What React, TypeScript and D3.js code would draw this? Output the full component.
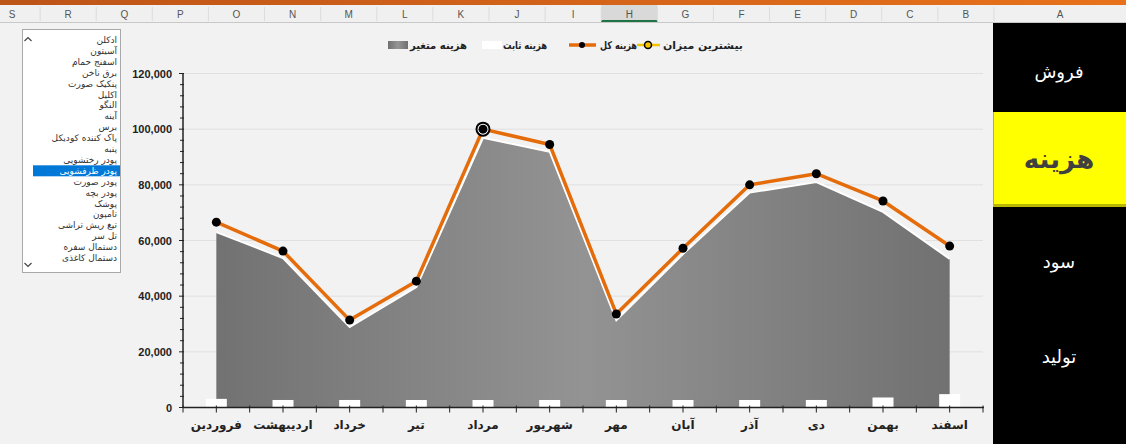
import React from 'react';
import * as d3 from 'd3';

const months = ['فروردین', 'اردیبهشت', 'خرداد', 'تیر', 'مرداد', 'شهریور', 'مهر', 'آبان', 'آذر', 'دی', 'بهمن', 'اسفند'];
const totalCost = [66600, 56200, 31400, 45400, 100000, 94500, 33600, 57200, 80000, 84000, 74200, 58000];
const variableCost = [63000, 53700, 28900, 43300, 96900, 91900, 31400, 55100, 77200, 81000, 70300, 53400];
const fixedCost = [3100, 2700, 2700, 2700, 2700, 2700, 2700, 2700, 2700, 2700, 3600, 4800];
const maxValue: (number | null)[] = [null, null, null, null, 100000, null, null, null, null, null, null, null];
const yTicks = [0, 20000, 40000, 60000, 80000, 100000, 120000];
const legendLabels = ['بیشترین میزان', 'هزینه کل', 'هزینه ثابت', 'هزینه متغیر'];
const products = ['ادکلن', 'آسیتون', 'اسفنج حمام', 'برق ناخن', 'پنکیک صورت', 'اکلیل', 'النگو', 'آینه', 'برس', 'پاک کننده کودیکل', 'پنبه', 'پودر رختشویی', 'پودر ظرفشویی', 'پودر صورت', 'پودر بچه', 'پوشک', 'تامپون', 'تیغ ریش تراشی', 'تل سر', 'دستمال سفره', 'دستمال کاغذی'];
const selectedProduct = 'پودر ظرفشویی';
const columnLetters = ['S', 'R', 'Q', 'P', 'O', 'N', 'M', 'L', 'K', 'J', 'I', 'H', 'G', 'F', 'E', 'D', 'C', 'B'];
const activeColumn = 'H';
const menuItems = ['فروش', 'هزینه', 'سود', 'تولید'];
const activeMenu = 'هزینه';

const W = 1126;
const H = 444;
const persian = "Tahoma, 'DejaVu Sans', sans-serif";
const latin = "Tahoma, 'Liberation Sans', Arial, sans-serif";

export default function App() {
  const x = d3.scaleBand<string>().domain(months).range([183, 983]);
  const cx = (m: string) => (x(m) as number) + x.bandwidth() / 2;
  const y = d3.scaleLinear().domain([0, 120000]).range([407.5, 73.5]);
  const minorTicks = d3.range(0, 120001, 4000);

  const area = d3
    .area<number>()
    .x((_, i) => cx(months[i]))
    .y0(y(0))
    .y1((d) => y(d));
  const topLine = d3
    .line<number>()
    .x((_, i) => cx(months[i]))
    .y((d) => y(d));

  const colX = d3.scaleBand<string>().domain(columnLetters).range([-16, 994]);
  const listY = d3.scalePoint<string>().domain(products).range([40, 258]);
  const menuY = d3.scalePoint<string>().domain(menuItems).range([72, 357]);

  // legend layout (right to left): right edge and width of each label
  const legendRight = [743, 637, 547, 467];
  const legendWidth = [80, 37, 44, 57];

  return (
    <svg width={W} height={H} style={{ position: 'absolute', left: 0, top: 0, background: '#f2f2f2' }}>
      <defs>
        <linearGradient id="topbar" x1="0" x2="1" y1="0" y2="0">
          <stop offset="0" stopColor="#bd5418" />
          <stop offset="1" stopColor="#e8721b" />
        </linearGradient>
        <linearGradient id="areaGrad" gradientUnits="userSpaceOnUse" x1="183" y1="0" x2="983" y2="0">
          <stop offset="0" stopColor="#6f6f6f" />
          <stop offset="0.5" stopColor="#939393" />
          <stop offset="1" stopColor="#6e6e6e" />
        </linearGradient>
        <linearGradient id="swatchGrad" x1="0" x2="1" y1="0" y2="0">
          <stop offset="0" stopColor="#707070" />
          <stop offset="0.5" stopColor="#959595" />
          <stop offset="1" stopColor="#707070" />
        </linearGradient>
      </defs>
      <rect x={0} y={0} width={W} height={H} fill="#f2f2f2" />

      {/* top bar and column headers */}
      <rect x={0} y={0} width={W} height={5} fill="url(#topbar)" />
      <rect x={0} y={5} width={W} height={17} fill="#f0f0f0" />
      <rect x={colX(activeColumn) as number} y={5} width={colX.bandwidth()} height={17} fill="#d9d9d9" />
      <rect x={colX(activeColumn) as number} y={20} width={colX.bandwidth()} height={2} fill="#217346" />
      <line x1={0} x2={W} y1={22.5} y2={22.5} stroke="#c8c8c8" />
      {columnLetters.map((c) => (
        <g key={c}>
          <line x1={(colX(c) as number) + colX.bandwidth()} x2={(colX(c) as number) + colX.bandwidth()} y1={7} y2={21} stroke="#dcdcdc" />
          <text x={(colX(c) as number) + colX.bandwidth() / 2} y={17.5} textAnchor="middle" fontSize={10} fontFamily={latin} fill="#555">
            {c}
          </text>
        </g>
      ))}
      <text x={1060} y={17.5} textAnchor="middle" fontSize={10} fontFamily={latin} fill="#555">
        A
      </text>

      {/* list box */}
      <rect x={22.5} y={29.5} width={98} height={243} fill="#ffffff" stroke="#a8a8a8" />
      <path d="M24.5,41 L28,37.5 L31.5,41" fill="none" stroke="#444" strokeWidth={1.2} />
      <path d="M24.5,263 L28,266.5 L31.5,263" fill="none" stroke="#444" strokeWidth={1.2} />
      {products.map((p) => {
        const py = listY(p) as number;
        const sel = p === selectedProduct;
        return (
          <g key={p}>
            {sel && <rect x={33} y={py - 5.5} width={87} height={11} fill="#0078d7" />}
            <text x={117} y={py + 3} textAnchor="end" fontSize={9} fontFamily={persian} fill={sel ? '#ffffff' : '#333'}>
              {p}
            </text>
          </g>
        );
      })}

      {/* gridlines */}
      {yTicks.map((t) => (
        <line key={t} x1={183} x2={983} y1={y(t)} y2={y(t)} stroke="#e0e0e0" strokeWidth={1} />
      ))}

      {/* variable cost area */}
      <path d={area(variableCost) as string} fill="url(#areaGrad)" />
      <path d={topLine(variableCost) as string} fill="none" stroke="#ffffff" strokeWidth={2} />

      {/* fixed cost bars */}
      {fixedCost.map((v, i) => (
        <rect key={i} x={cx(months[i]) - 10.5} y={y(v)} width={21} height={y(0) - y(v)} fill="#ffffff" />
      ))}

      {/* axes */}
      <line x1={183} x2={183} y1={y(120000)} y2={y(0)} stroke="#222" strokeWidth={1.5} />
      {minorTicks.map((t) => (
        <line key={t} x1={t % 20000 === 0 ? 179 : 180} x2={184} y1={y(t)} y2={y(t)} stroke="#222" strokeWidth={1} />
      ))}
      {yTicks.map((t) => (
        <text key={t} x={172} y={y(t) + 4} textAnchor="end" fontSize={11} fontWeight="bold" fontFamily={latin} fill="#222">
          {d3.format(',')(t)}
        </text>
      ))}
      <line x1={183} x2={984} y1={y(0)} y2={y(0)} stroke="#222" strokeWidth={1.5} />
      {months.map((m) => (
        <g key={m}>
          <line x1={x(m) as number} x2={x(m) as number} y1={y(0) - 2} y2={y(0) + 5} stroke="#222" strokeWidth={1} />
          <line x1={cx(m)} x2={cx(m)} y1={y(0) - 2} y2={y(0) + 5} stroke="#222" strokeWidth={1} />
          <text x={cx(m)} y={429} textAnchor="middle" fontSize={12} fontWeight="bold" fontFamily={persian} fill="#222">
            {m}
          </text>
        </g>
      ))}
      <line x1={983} x2={983} y1={y(0) - 2} y2={y(0) + 5} stroke="#222" strokeWidth={1} />

      {/* total cost line */}
      <path d={topLine(totalCost) as string} fill="none" stroke="#e46c0a" strokeWidth={3.5} strokeLinejoin="round" />

      {/* max marker */}
      {maxValue.map((v, i) =>
        v == null ? null : <circle key={'m' + i} cx={cx(months[i])} cy={y(v)} r={6.5} fill="#ffffff" stroke="#000" strokeWidth={2} />
      )}
      {totalCost.map((v, i) => (
        <circle key={i} cx={cx(months[i])} cy={y(v)} r={4.5} fill="#000" />
      ))}

      {/* legend */}
      <g fontSize={10.5} fontWeight="bold" fontFamily={persian} fill="#222">
        {legendLabels.map((l, i) => (
          <text key={l} x={legendRight[i] - legendWidth[i]} y={49} textAnchor="start" textLength={legendWidth[i]} lengthAdjust="spacingAndGlyphs">
            {l}
          </text>
        ))}
        <line x1={637} x2={660} y1={45} y2={45} stroke="#f5c400" strokeWidth={2.5} />
        <circle cx={648} cy={45} r={3.5} fill="#f5c400" stroke="#000" strokeWidth={1.5} />

        <line x1={569} x2={596} y1={45} y2={45} stroke="#e46c0a" strokeWidth={3.5} />
        <circle cx={582} cy={45} r={3} fill="#000" />

        <rect x={482} y={41} width={20} height={8} fill="#ffffff" />
        <rect x={388} y={41} width={20} height={8} fill="url(#swatchGrad)" />
      </g>

      {/* right menu panel */}
      <rect x={993} y={23} width={133} height={421} fill="#000000" />
      {menuItems.map((m) => {
        const my = menuY(m) as number;
        if (m === activeMenu) {
          return (
            <g key={m}>
              <rect x={993} y={112} width={133} height={95} fill="#b8b800" />
              <rect x={994} y={112} width={132} height={92} fill="#ffff00" />
              <text x={1059} y={168} textAnchor="middle" fontSize={26} fontWeight="bold" fontFamily={persian} fill="#404040">
                {m}
              </text>
            </g>
          );
        }
        return (
          <text key={m} x={1059} y={my + 6} textAnchor="middle" fontSize={18} fontFamily={persian} fill="#ffffff">
            {m}
          </text>
        );
      })}
    </svg>
  );
}
